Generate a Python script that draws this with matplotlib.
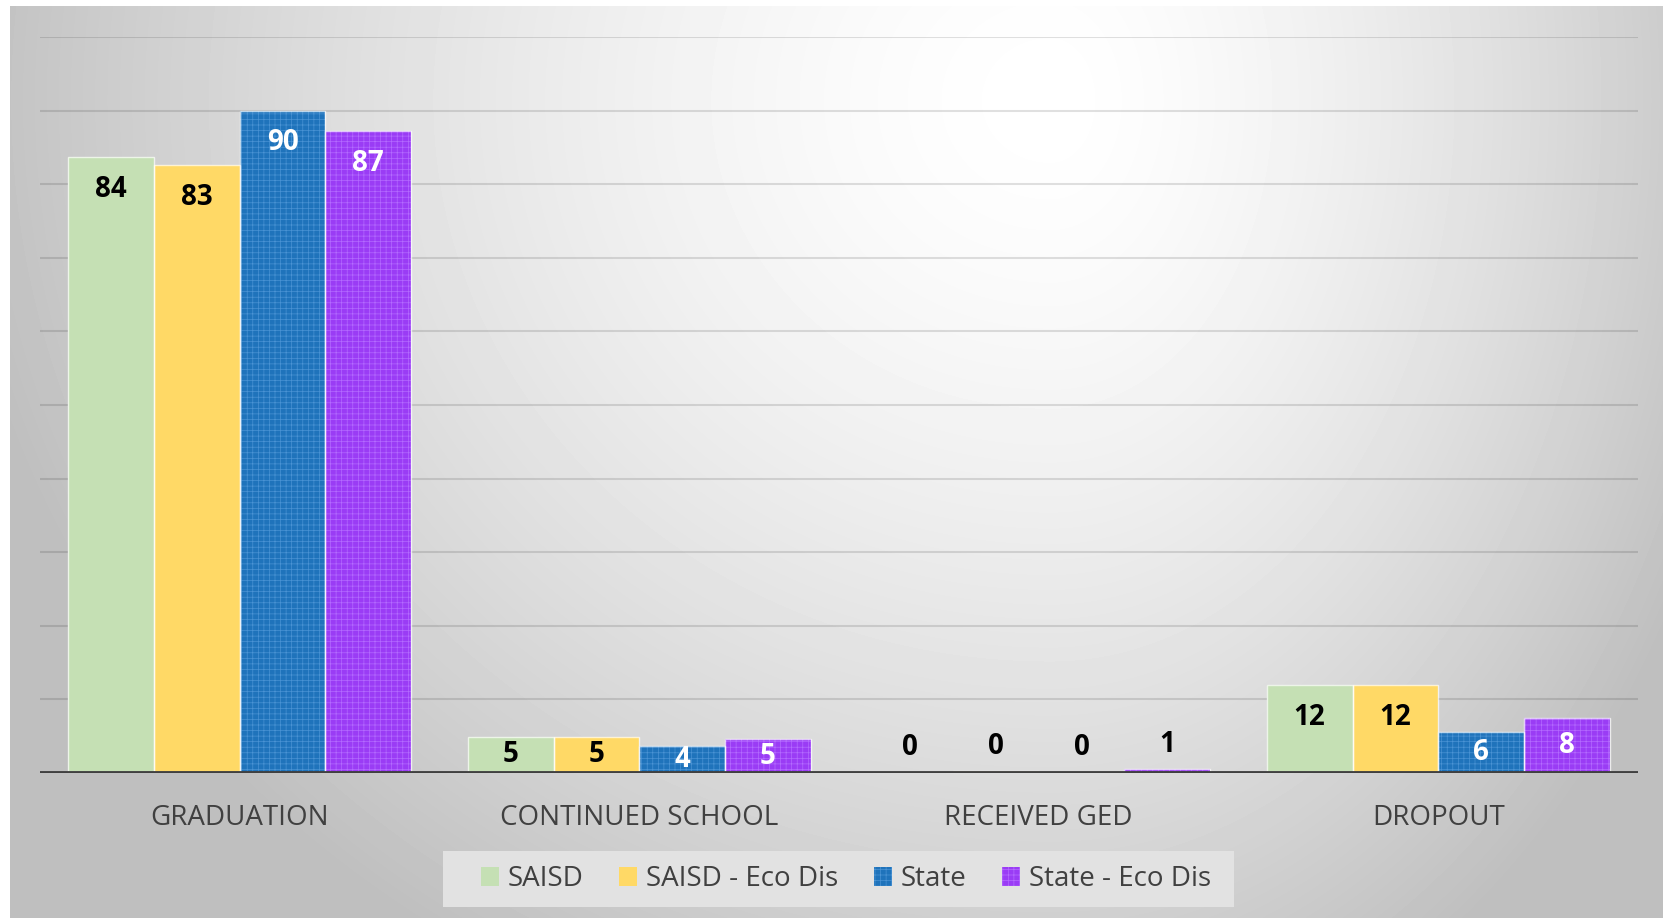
import numpy as np
import matplotlib.pyplot as plt
from matplotlib.patches import Patch, Rectangle

categories = ['GRADUATION', 'CONTINUED SCHOOL', 'RECEIVED GED', 'DROPOUT']
series = ['SAISD', 'SAISD - Eco Dis', 'State', 'State - Eco Dis']
saisd = [83.7, 4.9, 0.2, 12.0]
saisd_eco = [82.6, 4.9, 0.3, 12.0]
state = [90.0, 3.7, 0.2, 5.6]
state_eco = [87.2, 4.6, 0.6, 7.5]
values = [saisd, saisd_eco, state, state_eco]

colors = ['#c5e0b4', '#ffd966', '#1f73bb', '#9a3cf5']
hatch_colors = [None, None, '#4a93d4', '#b46bff']
label_colors = ['black', 'black', 'white', 'white']

plt.rcParams['font.family'] = ['Open Sans', 'DejaVu Sans']
plt.rcParams['hatch.linewidth'] = 0.5

W, H = 1663, 918
fig = plt.figure(figsize=(W / 100, H / 100), dpi=100)
fig.patch.set_facecolor('white')

# grey radial background panel
bg = fig.add_axes([10 / W, 0, 1 - 10 / W, 1 - 6 / H])
yy, xx = np.mgrid[6:H, 10:W]
dx = (xx - 1050.0)
dx = np.where(dx < 0, dx / 1100.0, dx / 720.0)
dy = (yy - 100.0) / 1000.0
r = np.minimum(np.sqrt(dx ** 2 + dy ** 2), 1.0)
shade = (255 - 64 * r ** 1.5) / 255.0
bg.imshow(shade, cmap='gray', vmin=0, vmax=1, aspect='auto', interpolation='bilinear')
bg.set_axis_off()

ax = fig.add_axes([40 / W, (H - 773) / H, 1598 / W, 736 / H])
ax.patch.set_alpha(0)
ax.set_xlim(-0.5, 3.5)
ax.set_ylim(0, 100)

for yv in range(10, 101, 10):
    ax.axhline(yv, color='black', alpha=0.12, lw=1.5, zorder=1)

x = np.arange(len(categories))
w = 0.2146
for i, vals in enumerate(values):
    pos = x + (i - 1.5) * w
    if hatch_colors[i]:
        ax.bar(pos, vals, w, color=colors[i], edgecolor=hatch_colors[i], hatch='+++', lw=0, zorder=2)
    else:
        ax.bar(pos, vals, w, color=colors[i], lw=0, zorder=2)
    ax.bar(pos, vals, w, facecolor='none', edgecolor='white', alpha=0.7, lw=1, zorder=3)
    for p, v in zip(pos, vals):
        if v < 1:
            ty = v + 3.3
            tc = 'black'
        else:
            ty = max(v - 4.4, v * 0.5)
            tc = label_colors[i]
        ax.text(p, ty, '%.0f' % v, ha='center', va='center', fontsize=20,
                fontweight='bold', color=tc, zorder=4)

ax.axhline(0, color='#404040', lw=3.5, zorder=5)
for s in ax.spines.values():
    s.set_visible(False)
ax.set_yticks([])
ax.set_xticks(x)
ax.set_xticklabels(categories, fontsize=20, color='#404040')
ax.tick_params(axis='x', length=0, pad=22)

# legend box
fig.patches.append(Rectangle((443 / W, (H - 907) / H), 791 / W, 56 / H, transform=fig.transFigure,
                             facecolor='#e2e2e2', edgecolor='none', zorder=0))

handles = []
for i in range(4):
    if hatch_colors[i]:
        handles.append(Patch(facecolor=colors[i], edgecolor=hatch_colors[i], hatch='+++', lw=0))
    else:
        handles.append(Patch(facecolor=colors[i], lw=0))
leg = fig.legend(handles, series, loc='center', bbox_to_anchor=(846 / W, (H - 879) / H),
                 ncol=4, fontsize=20, frameon=False, handlelength=0.65,
                 handleheight=0.65, handletextpad=0.3, columnspacing=1.3, borderpad=0.3,
                 borderaxespad=0, labelcolor='#404040')

fig.savefig('out.png', dpi=100)
